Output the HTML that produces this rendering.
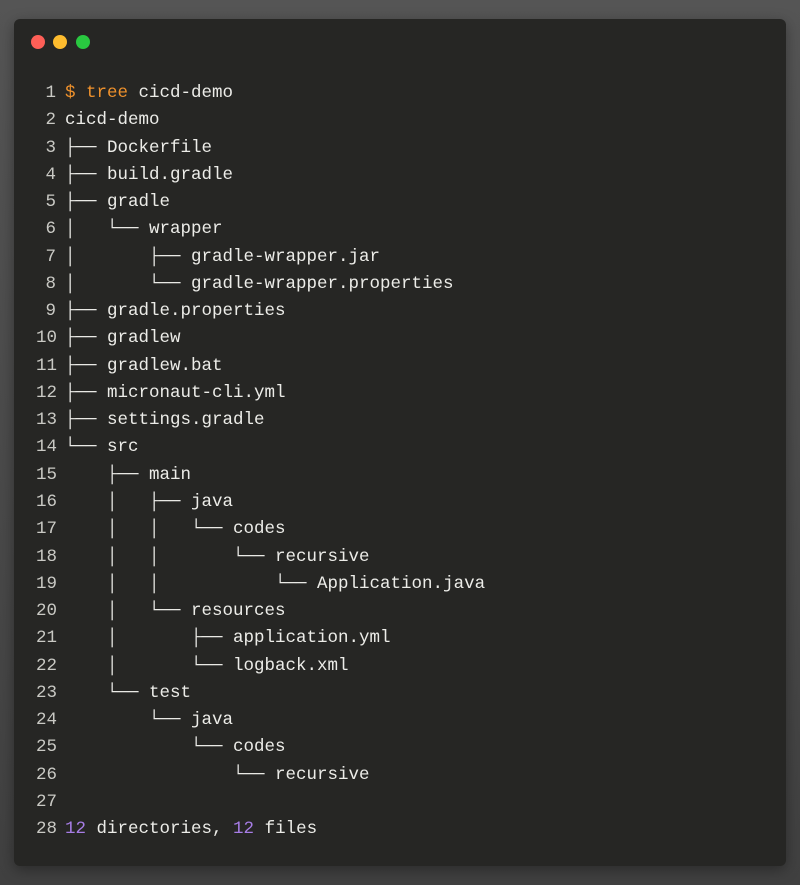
<!DOCTYPE html>
<html><head><meta charset="utf-8"><style>
html,body{margin:0;padding:0;width:800px;height:885px;overflow:hidden;background:linear-gradient(#555,#404040);}
.win{position:absolute;left:14px;top:19px;width:772px;height:847px;background:#262624;border-radius:6px;box-shadow:0 4px 14px rgba(0,0,0,.35);}
.dot{position:absolute;top:16px;width:14px;height:14px;border-radius:50%;}
pre{position:absolute;left:22px;top:61px;margin:0;font-family:"Liberation Mono","DejaVu Sans Mono",monospace;font-size:17.5px;line-height:27.26px;color:#ecece8;}
.n{display:inline-block;width:20px;text-align:right;color:#c9c9c4;margin-right:9px;}
.o{color:#f0922c}.p{color:#a77de6}
</style></head><body>
<div class="win">
<div class="dot" style="left:17px;background:#fe5f57"></div>
<div class="dot" style="left:39px;background:#febc2e"></div>
<div class="dot" style="left:62px;background:#29c840"></div>
<pre><span class="n">1</span><span class="o">$ tree</span> cicd-demo
<span class="n">2</span>cicd-demo
<span class="n">3</span>├── Dockerfile
<span class="n">4</span>├── build.gradle
<span class="n">5</span>├── gradle
<span class="n">6</span>│   └── wrapper
<span class="n">7</span>│       ├── gradle-wrapper.jar
<span class="n">8</span>│       └── gradle-wrapper.properties
<span class="n">9</span>├── gradle.properties
<span class="n">10</span>├── gradlew
<span class="n">11</span>├── gradlew.bat
<span class="n">12</span>├── micronaut-cli.yml
<span class="n">13</span>├── settings.gradle
<span class="n">14</span>└── src
<span class="n">15</span>    ├── main
<span class="n">16</span>    │   ├── java
<span class="n">17</span>    │   │   └── codes
<span class="n">18</span>    │   │       └── recursive
<span class="n">19</span>    │   │           └── Application.java
<span class="n">20</span>    │   └── resources
<span class="n">21</span>    │       ├── application.yml
<span class="n">22</span>    │       └── logback.xml
<span class="n">23</span>    └── test
<span class="n">24</span>        └── java
<span class="n">25</span>            └── codes
<span class="n">26</span>                └── recursive
<span class="n">27</span>
<span class="n">28</span><span class="p">12</span> directories, <span class="p">12</span> files</pre>
</div>
</body></html>
